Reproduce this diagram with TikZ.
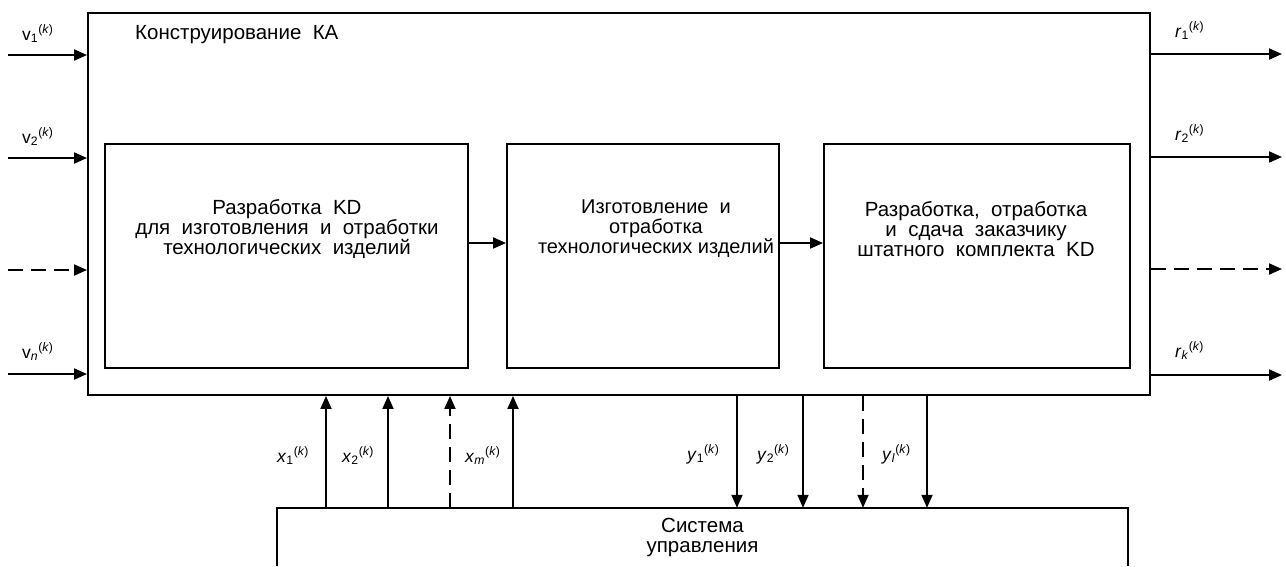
\documentclass[tikz,border=0pt]{standalone}
\usepackage{fontspec}
\setmainfont{Liberation Sans}
\usetikzlibrary{arrows.meta}
\begin{document}
\begin{tikzpicture}[x=1pt,y=-1pt,
  box/.style={draw,line width=1.9pt,inner sep=0pt,rectangle},
  arr/.style={line width=1.9pt,-{Triangle[length=13pt,width=11pt]}},
  dsh/.style={dash pattern=on 15pt off 8pt},
  txt/.style={font=\fontsize{20.5}{20}\selectfont,align=center,inner sep=0pt},
  ttl/.style={font=\fontsize{20.5}{20}\selectfont,inner sep=0pt,anchor=base west},
  lbl/.style={font=\fontsize{17.5}{20}\selectfont,inner sep=0pt,anchor=base west}]
\useasboundingbox (0,0) rectangle (1286,566);
% boxes
\node[box,minimum width=1062pt,minimum height=382pt] (ka) at (619,204) {};
\node[box,minimum width=363pt,minimum height=224pt] (b1) at (286.5,256) {};
\node[box,minimum width=272pt,minimum height=224pt] (b2) at (643,256) {};
\node[box,minimum width=306pt,minimum height=224pt] (b3) at (977,256) {};
\node[txt,minimum width=851pt,minimum height=58pt] (sys) at (702.5,537) {Система\\управления};
\draw[line width=1.9pt] (sys.south west) -- (sys.north west) -- (sys.north east) -- (sys.south east);
% texts
\node[ttl] (title) at (135,39) {Конструирование\ \ КА};
\node[txt] (t1) at (287,229) {Разработка\ \ KD\\для\ \ изготовления\ \ и\ \ отработки\\технологических\ \ изделий};
\node[txt,font=\fontsize{20}{20}\selectfont] (t2) at (656,229) {Изготовление\ \ и\\отработка\\технологических изделий};
\node[txt] (t3) at (976,229) {Разработка,\ \ отработка\\и\ \ сдача\ \ заказчику\\штатного\ \ комплекта\ \ KD};
% arrows between boxes
\draw[arr] ([yshift=13pt]b1.east) -- ([yshift=13pt]b2.west);
\draw[arr] ([yshift=13pt]b2.east) -- ([yshift=13pt]b3.west);
% inputs
\coordinate (i1) at (8,55);
\coordinate (i2) at (8,158);
\coordinate (i3) at (8,270);
\coordinate (i4) at (8,374);
\draw[arr] (i1) -- (i1 -| ka.west);
\draw[arr] (i2) -- (i2 -| ka.west);
\draw[arr,dsh] (i3) -- (i3 -| ka.west);
\draw[arr] (i4) -- (i4 -| ka.west);
\node[lbl] (lv1) at (22,40) {v\textsubscript{1}\textsuperscript{(\textit{k})}};
\node[lbl] (lv2) at (22,143) {v\textsubscript{2}\textsuperscript{(\textit{k})}};
\node[lbl] (lvn) at (22,358) {v\textsubscript{\textit{n}}\textsuperscript{(\textit{k})}};
% outputs
\coordinate (o1) at (1282,54);
\coordinate (o2) at (1282,157);
\coordinate (o3) at (1282,269);
\coordinate (o4) at (1282,375);
\draw[arr] (o1 -| ka.east) -- (o1);
\draw[arr] (o2 -| ka.east) -- (o2);
\draw[arr,dsh] (o3 -| ka.east) -- (o3);
\draw[arr] (o4 -| ka.east) -- (o4);
\node[lbl] (lr1) at (1175,37) {\textit{r}\textsubscript{1}\textsuperscript{(\textit{k})}};
\node[lbl] (lr2) at (1175,140) {\textit{r}\textsubscript{2}\textsuperscript{(\textit{k})}};
\node[lbl] (lrk) at (1175,357) {\textit{r}\textsubscript{\textit{k}}\textsuperscript{(\textit{k})}};
% x arrows (up)
\coordinate (x1) at (326,0);
\coordinate (x2) at (388,0);
\coordinate (x3) at (450,0);
\coordinate (x4) at (513,0);
\draw[arr] (x1 |- sys.north) -- (x1 |- ka.south);
\draw[arr] (x2 |- sys.north) -- (x2 |- ka.south);
\draw[arr,dsh] (x3 |- sys.north) -- (x3 |- ka.south);
\draw[arr] (x4 |- sys.north) -- (x4 |- ka.south);
\node[lbl] (lx1) at (277,462) {\textit{x}\textsubscript{1}\textsuperscript{(\textit{k})}};
\node[lbl] (lx2) at (342,462) {\textit{x}\textsubscript{2}\textsuperscript{(\textit{k})}};
\node[lbl] (lxm) at (465,462) {\textit{x}\textsubscript{\textit{m}}\textsuperscript{(\textit{k})}};
% y arrows (down)
\coordinate (y1) at (737,0);
\coordinate (y2) at (803,0);
\coordinate (y3) at (863,0);
\coordinate (y4) at (927,0);
\draw[arr] (y1 |- ka.south) -- (y1 |- sys.north);
\draw[arr] (y2 |- ka.south) -- (y2 |- sys.north);
\draw[arr,dsh] (y3 |- ka.south) -- (y3 |- sys.north);
\draw[arr] (y4 |- ka.south) -- (y4 |- sys.north);
\node[lbl] (ly1) at (687,460) {\textit{y}\textsubscript{1}\textsuperscript{(\textit{k})}};
\node[lbl] (ly2) at (757,460) {\textit{y}\textsubscript{2}\textsuperscript{(\textit{k})}};
\node[lbl] (lyl) at (882,460) {\textit{y}\textsubscript{\textit{l}}\textsuperscript{(\textit{k})}};
\end{tikzpicture}
\end{document}
